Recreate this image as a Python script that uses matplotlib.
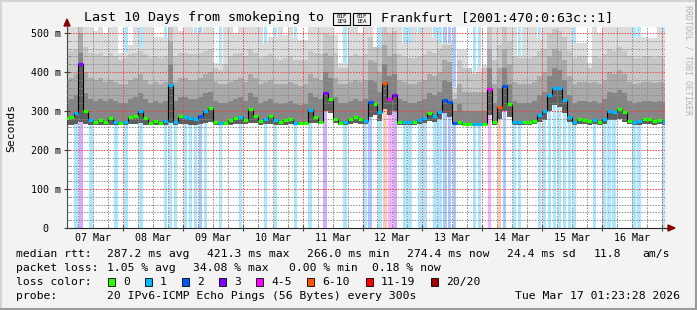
"""
Smokeping 10-day graph for Frankfurt, redrawn with matplotlib.
"""

import numpy as np
import matplotlib
matplotlib.use("Agg")
import matplotlib.pyplot as plt
import matplotlib.dates as mdates
from matplotlib.colors import to_rgb
from matplotlib.patches import Rectangle, Polygon
from matplotlib.lines import Line2D

plt.rcParams["font.family"] = ["DejaVu Sans Mono", "DejaVu Sans"]

W, H = 697, 310

# 2-hour bins, first bin starts 2026-03-07 00:00
t_start = np.datetime64("2026-03-07T00:00")
t_from = np.datetime64("2026-03-07T01:23:28")
t_to = np.datetime64("2026-03-17T01:23:28")

median_rtt = [
    282, 285, 296, 420, 301, 277, 272, 278, 271, 283, 273, 270,
    272, 285, 288, 301, 281, 270, 274, 270, 274, 367, 273, 287,
    285, 281, 279, 287, 301, 307, 272, 270, 268, 276, 281, 284,
    278, 305, 288, 275, 279, 287, 277, 273, 276, 279, 270, 268,
    268, 303, 284, 273, 345, 331, 279, 270, 273, 279, 285, 279,
    274, 322, 318, 297, 373, 330, 342, 271, 271, 271, 273, 276,
    281, 294, 287, 298, 327, 322, 270, 272, 266, 266, 266, 266,
    266, 356, 271, 311, 364, 318, 273, 273, 271, 273, 275, 291,
    300, 342, 360, 358, 327, 285, 272, 279, 277, 275, 277, 272,
    279, 300, 297, 306, 297, 275, 271, 274, 279, 279, 275, 277,
    273,
]

# lost pings out of 20 per bin
loss_count = [
    0, 0, 1, 3, 0, 1, 0, 0, 0, 0, 1, 0,
    1, 0, 0, 1, 0, 0, 0, 0, 1, 1, 1, 0,
    1, 1, 1, 2, 1, 0, 0, 1, 0, 0, 0, 1,
    0, 0, 0, 0, 1, 0, 1, 0, 0, 0, 1, 0,
    0, 1, 0, 0, 3, 0, 0, 0, 1, 0, 0, 0,
    1, 2, 0, 1, 7, 4, 3, 0, 1, 1, 0, 1,
    1, 0, 1, 1, 2, 2, 2, 0, 0, 0, 1, 1,
    0, 4, 0, 7, 2, 0, 1, 1, 0, 0, 0, 1,
    1, 1, 1, 1, 1, 1, 1, 0, 0, 0, 1, 0,
    1, 1, 1, 0, 0, 0, 1, 1, 0, 0, 0, 0,
    1,
]

# smoke: spread of the 20 pings per bin
ping_min = [
    265, 265, 267, 272, 266, 265, 264, 265, 264, 265, 265, 264,
    264, 266, 267, 268, 265, 264, 265, 264, 265, 268, 265, 266,
    266, 265, 265, 267, 270, 272, 265, 264, 264, 265, 266, 267,
    266, 270, 268, 265, 266, 267, 265, 265, 265, 266, 264, 264,
    264, 270, 268, 266, 300, 295, 268, 265, 265, 266, 268, 266,
    266, 285, 290, 275, 305, 290, 300, 265, 265, 264, 265, 266,
    268, 275, 272, 280, 295, 285, 265, 264, 263, 263, 263, 263,
    263, 290, 265, 280, 300, 285, 265, 265, 264, 265, 266, 272,
    278, 300, 315, 310, 295, 272, 265, 266, 266, 265, 266, 264,
    266, 278, 276, 280, 272, 266, 264, 265, 266, 266, 265, 266,
    265,
]
ping_p60 = [
    325, 330, 340, 450, 345, 330, 325, 330, 325, 330, 325, 320,
    320, 330, 335, 345, 330, 320, 325, 320, 325, 420, 325, 335,
    335, 330, 330, 335, 345, 350, 325, 320, 320, 325, 330, 335,
    325, 345, 335, 320, 325, 330, 320, 318, 320, 325, 318, 315,
    318, 345, 335, 330, 400, 385, 335, 320, 320, 325, 330, 325,
    330, 380, 375, 350, 420, 390, 395, 330, 325, 320, 320, 325,
    330, 345, 340, 350, 380, 375, 300, 318, 300, 300, 300, 300,
    300, 410, 320, 360, 410, 370, 325, 320, 320, 320, 325, 340,
    350, 390, 410, 405, 380, 340, 320, 325, 325, 322, 325, 320,
    330, 350, 345, 355, 345, 325, 320, 322, 325, 325, 322, 325,
    322,
]
ping_p75 = [
    380, 385, 395, 500, 400, 385, 380, 385, 375, 380, 375, 370,
    370, 380, 385, 395, 380, 370, 375, 370, 375, 480, 375, 385,
    385, 380, 380, 385, 395, 400, 375, 370, 370, 375, 380, 385,
    375, 395, 385, 370, 375, 380, 370, 368, 370, 375, 368, 365,
    368, 395, 385, 380, 450, 440, 385, 370, 370, 375, 380, 375,
    380, 430, 425, 400, 470, 440, 445, 380, 375, 370, 370, 375,
    380, 395, 390, 400, 430, 425, 330, 368, 350, 350, 350, 350,
    350, 460, 370, 410, 460, 420, 375, 370, 370, 370, 375, 390,
    400, 440, 460, 455, 430, 390, 370, 375, 375, 372, 375, 370,
    380, 400, 395, 405, 395, 375, 370, 372, 375, 375, 372, 375,
    372,
]
ping_p90 = [
    450, 455, 460, 520, 465, 450, 445, 450, 440, 450, 440, 430,
    435, 445, 450, 455, 445, 435, 440, 435, 440, 520, 440, 450,
    450, 445, 445, 450, 455, 460, 410, 405, 420, 440, 445, 450,
    440, 460, 450, 435, 440, 445, 435, 430, 435, 440, 430, 430,
    430, 455, 450, 445, 500, 495, 450, 410, 410, 440, 445, 440,
    445, 490, 465, 465, 520, 500, 505, 445, 440, 435, 435, 440,
    445, 455, 450, 460, 470, 470, 350, 430, 410, 410, 395, 400,
    410, 520, 430, 470, 515, 480, 440, 435, 435, 435, 440, 455,
    460, 500, 510, 505, 490, 455, 435, 440, 440, 410, 440, 435,
    445, 460, 455, 465, 455, 440, 435, 437, 440, 440, 437, 440,
    437,
]
ping_max = [
    518, 518, 518, 520, 518, 518, 505, 518, 500, 518, 518, 450,
    450, 470, 518, 462, 518, 518, 490, 490, 487, 520, 518, 505,
    518, 518, 500, 500, 518, 518, 422, 420, 518, 518, 500, 518,
    518, 518, 518, 518, 475, 490, 490, 518, 495, 518, 487, 482,
    482, 518, 518, 518, 520, 520, 495, 422, 422, 518, 518, 500,
    518, 518, 465, 465, 520, 520, 518, 518, 475, 475, 518, 500,
    518, 518, 487, 475, 475, 475, 362, 456, 456, 410, 400, 410,
    418, 520, 518, 518, 520, 518, 518, 441, 518, 518, 518, 487,
    518, 518, 520, 520, 518, 518, 474, 474, 474, 422, 518, 500,
    518, 518, 518, 518, 518, 518, 487, 491, 491, 487, 487, 518,
    500,
]

day_labels = ["07 Mar", "08 Mar", "09 Mar", "10 Mar", "11 Mar",
              "12 Mar", "13 Mar", "14 Mar", "15 Mar", "16 Mar"]
y_ticks = [0, 100, 200, 300, 400, 500]
y_tick_labels = ["0  ", "100 m", "200 m", "300 m", "400 m", "500 m"]

loss_names = ["0", "1", "2", "3", "4-5", "6-10", "11-19", "20/20"]
loss_upper = [0, 1, 2, 3, 5, 10, 19, 20]
loss_colors = ["#26ff00", "#00b8ff", "#0059ff", "#7e00ff",
               "#ff00ff", "#ff5500", "#ff0000", "#a10000"]

rtt_stats = ["287.2 ms avg", "421.3 ms max", "266.0 ms min",
             "274.4 ms now", "24.4 ms sd", "11.8", "am/s"]
loss_stats = ["1.05 % avg", "34.08 % max", "0.00 % min", "0.18 % now"]
probe_text = "20 IPv6-ICMP Echo Pings (56 Bytes) every 300s"
stamp_text = "Tue Mar 17 01:23:28 2026"
title_left = "Last 10 Days from smokeping to"
title_right = "Frankfurt [2001:470:0:63c::1]"
# the flag (regional indicators D, E) has no glyph in any installed font;
# rrdtool shows them as hex boxes, drawn the same way here
flag_codes = [("01F", "1E9"), ("01F", "1EA")]

# ---------------------------------------------------------------------------
n = len(median_rtt)
edge_times = t_start + np.arange(n + 1) * np.timedelta64(2, "h")
edges = mdates.date2num(edge_times.astype("datetime64[s]").astype(object))
x_from = mdates.date2num(t_from.astype(object))
x_to = mdates.date2num(t_to.astype(object))


def loss_class(c):
    for i, up in enumerate(loss_upper):
        if c <= up:
            return i
    return len(loss_upper) - 1


def pale(c, a=0.33):
    r, g, b = to_rgb(c)
    return (1 - a * (1 - r), 1 - a * (1 - g), 1 - a * (1 - b))


def fx(px):
    return px / W


def fy(py):
    return 1 - py / H


fig = plt.figure(figsize=(W / 100, H / 100), dpi=100, facecolor="#f3f3f3")

# frame bevel
fig.add_artist(Line2D([0, 1], [fy(0.5), fy(0.5)], color="#d4d4d4", lw=1.5))
fig.add_artist(Line2D([fx(0.5), fx(0.5)], [0, 1], color="#d4d4d4", lw=1.5))
fig.add_artist(Line2D([0, 1], [fy(H - 1), fy(H - 1)], color="#9a9a9a", lw=1.5))
fig.add_artist(Line2D([fx(W - 1), fx(W - 1)], [0, 1], color="#9a9a9a", lw=1.5))

ax = fig.add_axes([fx(67), fy(228), (665 - 67) / W, (228 - 27) / H])
ax.set_facecolor("white")
ax.set_xlim(x_from, x_to)
ax.set_ylim(0, 515.4)

# loss background (narrower than the bin, like the thin hourly bars)
for k in range(n):
    if loss_count[k] > 0:
        w = edges[k + 1] - edges[k]
        ax.axvspan(edges[k] + 0.15 * w, edges[k + 1] - 0.15 * w,
                   color=pale(loss_colors[loss_class(loss_count[k])]), lw=0, zorder=0.5)

# smoke
ax.stairs(ping_max, edges, baseline=ping_min, fill=True, color="#dcdcdc", zorder=1)
ax.stairs(ping_p90, edges, baseline=ping_min, fill=True, color="#c6c6c6", zorder=1.1)
ax.stairs(ping_p75, edges, baseline=ping_min, fill=True, color="#a9a9a9", zorder=1.2)
ax.stairs(ping_p60, edges, baseline=ping_min, fill=True, color="#858585", zorder=1.3)
ax.stairs(median_rtt, edges, baseline=ping_min, fill=True, color="#5e5e5e", zorder=1.4)

# median line coloured by loss
ax.stairs(median_rtt, edges, baseline=None, color="black", lw=0.8, zorder=3)
seg_cols = [loss_colors[loss_class(c)] for c in loss_count]
ax.hlines(median_rtt, edges[:-1], edges[1:], colors=seg_cols, lw=2.3, zorder=4)

# grid
ax.set_axisbelow(False)
ax.xaxis.set_major_locator(mdates.DayLocator())
ax.xaxis.set_minor_locator(mdates.HourLocator(byhour=[6, 12, 18]))
ax.xaxis.set_major_formatter(plt.NullFormatter())
ax.set_yticks(y_ticks)
ax.set_yticklabels(y_tick_labels)
ax.set_yticks(np.arange(0, 515, 20), minor=True)
ax.grid(which="major", color=(0.95, 0.25, 0.25, 0.4), ls=(0, (1.4, 1.4)), lw=0.72)
ax.grid(which="minor", color=(0.55, 0.55, 0.55, 0.3), ls=(0, (1.4, 1.4)), lw=0.72)
ax.tick_params(which="major", direction="inout", length=4, width=0.8, color="#444444",
               labelsize=7.2, pad=2.5)
ax.tick_params(which="minor", direction="in", length=2, width=0.6, color="#888888")
for s in ["top", "right"]:
    ax.spines[s].set_visible(False)
ax.spines["left"].set_color("#444444")
ax.spines["bottom"].set_color("#222222")

for i, lab in enumerate(day_labels):
    noon = mdates.date2num((t_start + np.timedelta64(i, "D") + np.timedelta64(12, "h")).astype(object))
    ax.text(noon, -10 / 201, lab, transform=ax.get_xaxis_transform(), ha="center",
            va="center", fontsize=7.2)

# axis arrows
fig.add_artist(Polygon([(fx(64), fy(26)), (fx(70), fy(26)), (fx(67), fy(19))],
                       closed=True, color="#8b0000"))
fig.add_artist(Polygon([(fx(668), fy(225)), (fx(668), fy(231)), (fx(675), fy(228))],
                       closed=True, color="#8b0000"))
fig.add_artist(Line2D([fx(665), fx(668)], [fy(228), fy(228)], color="#222222", lw=0.8))

# title
fig.text(fx(84), fy(18), title_left, ha="left", va="center", fontsize=9.6)
for bx, (top, bot) in zip([333, 353], flag_codes):
    fig.add_artist(Rectangle((fx(bx), fy(25)), 17 / W, 12 / H, facecolor="none",
                             edgecolor="black", lw=0.8))
    fig.text(fx(bx + 8.5), fy(16), top, ha="center", va="center", fontsize=4.2)
    fig.text(fx(bx + 8.5), fy(21.5), bot, ha="center", va="center", fontsize=4.2)
fig.text(fx(381), fy(18), title_right, ha="left", va="center", fontsize=9.6)

fig.text(fx(11), fy(128), "Seconds", rotation=90, ha="center", va="center", fontsize=8.2)
fig.text(fx(688), fy(5), "RRDTOOL / TOBI OETIKER", rotation=270, ha="center", va="top",
         fontsize=6, color="#b4b4b4")

fs = 8.2
fig.text(fx(16), fy(254), "median rtt:", va="center", fontsize=fs)
for x, s in zip([107, 207, 307, 407, 507, 594, 642], rtt_stats):
    fig.text(fx(x), fy(254), s, va="center", fontsize=fs)
fig.text(fx(16), fy(268), "packet loss:", va="center", fontsize=fs)
for x, s in zip([107, 193, 289, 372], loss_stats):
    fig.text(fx(x), fy(268), s, va="center", fontsize=fs)
fig.text(fx(16), fy(282), "loss color:", va="center", fontsize=fs)
for x, name, col in zip([108, 145, 182, 219, 256, 307, 366, 431], loss_names, loss_colors):
    fig.add_artist(Rectangle((fx(x), fy(286)), 7 / W, 8 / H, facecolor=col,
                             edgecolor="black", lw=0.6))
    fig.text(fx(x + 15), fy(282), name, va="center", fontsize=fs)
fig.text(fx(16), fy(296), "probe:", va="center", fontsize=fs)
fig.text(fx(107), fy(296), probe_text, va="center", fontsize=fs)
fig.text(fx(680), fy(296), stamp_text, va="center", ha="right", fontsize=fs)

fig.savefig("out.png", dpi=100, facecolor=fig.get_facecolor())
